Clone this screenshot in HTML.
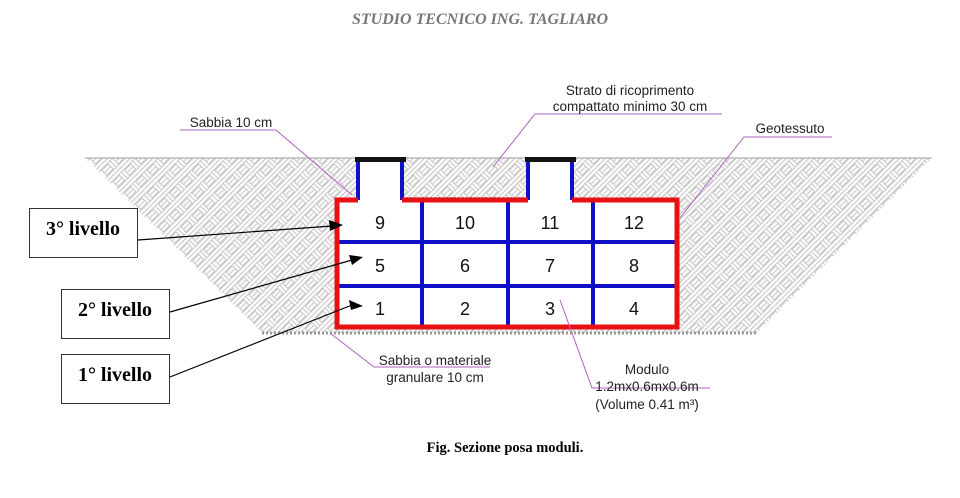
<!DOCTYPE html>
<html><head><meta charset="utf-8"><style>
html,body{margin:0;padding:0;background:#fff;}
svg{display:block;}
</style></head><body>
<svg width="960" height="498" viewBox="0 0 960 498" xmlns="http://www.w3.org/2000/svg">
<defs>
<pattern id="h" width="16" height="16" patternUnits="userSpaceOnUse" patternTransform="rotate(45)">
<rect width="16" height="16" fill="#fbfbfb"/>
<g stroke="#c8c8c8" stroke-width="1" fill="none">
<path d="M0 0.5 H8 M0 4 H8 M0 7.5 H8"/>
<path d="M8.5 8 V16 M12 8 V16 M15.5 8 V16"/>
<path d="M8.5 0 V8 M12 0 V8 M15.5 0 V8" transform="translate(-8 8)"/>
<path d="M8 0.5 H16 M8 4 H16 M8 7.5 H16" transform="translate(0 8)" opacity="0"/>
<path d="M8.5 0 V8 M12 0 V8 M15.5 0 V8"/>
<path d="M0 8.5 H0"/>
</g>
</pattern>
</defs>
<text x="480" y="24" text-anchor="middle" font-family="Liberation Serif, serif" font-style="italic" font-weight="bold" font-size="16" fill="#777">STUDIO TECNICO ING. TAGLIARO</text>

<!-- trench -->
<polygon points="85,158 932,158 757,333 262,333" fill="url(#h)"/>
<line x1="85" y1="158" x2="932" y2="158" stroke="#bbb" stroke-width="1.5"/>
<line x1="262" y1="333" x2="757" y2="333" stroke="#999" stroke-width="3" stroke-dasharray="2 2"/>
<!-- module area -->
<rect x="337" y="200" width="340" height="128" fill="#fff"/>
<rect x="358" y="158" width="44" height="44" fill="#fff"/>
<rect x="528" y="158" width="44" height="44" fill="#fff"/>
<line x1="402" y1="198" x2="528" y2="198" stroke="#999" stroke-width="2" stroke-dasharray="2 2"/>
<!-- blue grid -->
<g stroke="#1010c8" stroke-width="4">
<line x1="339" y1="242" x2="675" y2="242"/>
<line x1="339" y1="286" x2="675" y2="286"/>
<line x1="422" y1="200" x2="422" y2="328"/>
<line x1="508" y1="200" x2="508" y2="328"/>
<line x1="593" y1="200" x2="593" y2="328"/>
<line x1="358" y1="161" x2="358" y2="200"/>
<line x1="402" y1="161" x2="402" y2="200"/>
<line x1="528" y1="161" x2="528" y2="200"/>
<line x1="572" y1="161" x2="572" y2="200"/>
</g>
<polyline points="358,200 337,200 337,327 677,327 677,200 572,200" fill="none" stroke="#e81010" stroke-width="5"/>
<line x1="402" y1="200" x2="528" y2="200" stroke="#e81010" stroke-width="5"/>
<rect x="355" y="157" width="51" height="5" fill="#111"/>
<rect x="525" y="157" width="51" height="5" fill="#111"/>
<g font-family="Liberation Sans, sans-serif" font-size="18" text-anchor="middle" fill="#111">
<text x="380" y="229">9</text><text x="465" y="229">10</text><text x="550" y="229">11</text><text x="634" y="229">12</text>
<text x="380" y="272">5</text><text x="465" y="272">6</text><text x="550" y="272">7</text><text x="634" y="272">8</text>
<text x="380" y="315">1</text><text x="465" y="315">2</text><text x="550" y="315">3</text><text x="634" y="315">4</text>
</g>

<!-- leaders -->
<g stroke="#b060c0" stroke-width="1" fill="none">
<polyline points="180,130 276,130 352,195"/>
<polyline points="493,167 535,114 722,114"/>
<polyline points="680,218 744,137 832,137"/>
<polyline points="330,333 374,367 490,367"/>
<polyline points="560,300 592,388 710,388"/>
</g>
<g font-family="Liberation Sans, sans-serif" font-size="13.5" fill="#222" text-anchor="middle">
<text x="231" y="127">Sabbia 10 cm</text>
<text x="630" y="95">Strato di ricoprimento</text>
<text x="630" y="111">compattato minimo 30 cm</text>
<text x="790" y="133">Geotessuto</text>
<text x="435" y="365">Sabbia o materiale</text>
<text x="435" y="382">granulare 10 cm</text>
<text x="647" y="374">Modulo</text>
<text x="647" y="391">1.2mx0.6mx0.6m</text>
<text x="647" y="409">(Volume 0.41 m³)</text>
</g>

<!-- level boxes -->
<g fill="#fff" stroke="#333" stroke-width="1">
<rect x="29.5" y="208.5" width="108" height="49"/>
<rect x="61.5" y="289.5" width="108" height="49"/>
<rect x="61.5" y="354.5" width="108" height="49"/>
</g>
<g font-family="Liberation Serif, serif" font-weight="bold" font-size="20" fill="#000" text-anchor="middle">
<text x="83" y="235">3° livello</text>
<text x="115" y="316">2° livello</text>
<text x="115" y="381">1° livello</text>
</g>
<g stroke="#000" stroke-width="1.2">
<line x1="138" y1="240" x2="332" y2="226"/>
<line x1="170" y1="312" x2="352" y2="260"/>
<line x1="170" y1="377" x2="352" y2="305"/>
</g>
<g fill="#000">
<polygon points="343,225 329,220 330,231"/>
<polygon points="363,257 349,255 352,265"/>
<polygon points="363,306 349,300 351,310"/>
</g>

<text x="505" y="452" text-anchor="middle" font-family="Liberation Serif, serif" font-weight="bold" font-size="14.5" fill="#000">Fig. Sezione posa moduli.</text>
</svg>
</body></html>
